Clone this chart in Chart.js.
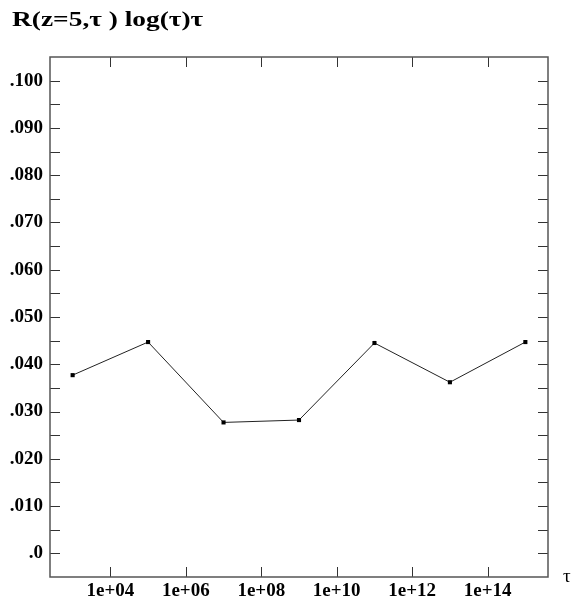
<!DOCTYPE html>
<html>
<head>
<meta charset="utf-8">
<script src="https://cdn.jsdelivr.net/npm/chart.js@4/dist/chart.umd.min.js"></script>
<style>
  html, body { margin: 0; padding: 0; background: #fff; }
  #wrap { width: 574px; height: 603px; position: relative; }
</style>
</head>
<body>
<div id="wrap"><canvas id="chart"></canvas></div>
<script>
// data
const tauValues = [1e3, 1e5, 1e7, 1e9, 1e11, 1e13, 1e15];
const rValues = [0.0377, 0.0447, 0.0277, 0.0282, 0.0445, 0.0362, 0.0447];

const xTickValues = [1e4, 1e6, 1e8, 1e10, 1e12, 1e14];
const xTickLabels = ['1e+04', '1e+06', '1e+08', '1e+10', '1e+12', '1e+14'];
const yTickValues = [0, 0.01, 0.02, 0.03, 0.04, 0.05, 0.06, 0.07, 0.08, 0.09, 0.10];
const yTickLabels = ['.0', '.010', '.020', '.030', '.040', '.050', '.060', '.070', '.080', '.090', '.100'];
const yMinorValues = [0.005, 0.015, 0.025, 0.035, 0.045, 0.055, 0.065, 0.075, 0.085, 0.095];

const titleText = 'R(z=5,\u03c4 ) log(\u03c4)\u03c4';
const axisText = '\u03c4';

const serif = "'Liberation Serif', 'DejaVu Serif', serif";

// frame, inward ticks on all four sides, title and axis symbol
const framePlugin = {
    id: 'frame',
    afterDraw(chart) {
        const ctx = chart.ctx;
        const a = chart.chartArea;
        const xs = chart.scales.x, ys = chart.scales.y;
        const len = 10;
        ctx.save();
        ctx.strokeStyle = '#333';
        ctx.lineWidth = 1;
        ctx.beginPath();
        xTickValues.forEach(v => {
            const px = Math.round(xs.getPixelForValue(v)) + 0.5;
            ctx.moveTo(px, a.bottom); ctx.lineTo(px, a.bottom - len);
            ctx.moveTo(px, a.top); ctx.lineTo(px, a.top + len);
        });
        yTickValues.concat(yMinorValues).forEach(v => {
            const py = Math.round(ys.getPixelForValue(v)) + 0.5;
            ctx.moveTo(a.left, py); ctx.lineTo(a.left + len, py);
            ctx.moveTo(a.right, py); ctx.lineTo(a.right - len, py);
        });
        ctx.stroke();

        ctx.strokeStyle = '#555';
        ctx.lineWidth = 1.5;
        ctx.strokeRect(a.left, a.top, a.right - a.left, a.bottom - a.top);

        ctx.fillStyle = '#000';
        ctx.textBaseline = 'alphabetic';
        ctx.textAlign = 'left';
        // the reference title is set wide, so stretch it sideways
        ctx.save();
        ctx.translate(12, 26);
        ctx.scale(1.37, 1);
        ctx.font = 'bold 20px ' + serif;
        ctx.fillText(titleText, 0, 0);
        ctx.restore();
        ctx.font = '19px ' + serif;
        ctx.fillText(axisText, 563, 582);
        ctx.restore();
    }
};

new Chart(document.getElementById('chart'), {
    type: 'line',
    data: {
        datasets: [{
            data: tauValues.map((t, i) => ({ x: t, y: rValues[i] })),
            borderColor: '#222',
            borderWidth: 1,
            pointStyle: 'rect',
            pointRadius: 2.9,
            pointBackgroundColor: '#000',
            pointBorderColor: '#000',
            pointBorderWidth: 0,
            tension: 0
        }]
    },
    options: {
        responsive: true,
        maintainAspectRatio: false,
        animation: false,
        layout: { padding: { top: 57, left: 0, right: 26, bottom: 0 } },
        plugins: {
            legend: { display: false },
            tooltip: { enabled: false }
        },
        scales: {
            x: {
                type: 'logarithmic',
                min: Math.pow(10, 2.4),
                max: Math.pow(10, 15.6),
                afterBuildTicks: s => { s.ticks = xTickValues.map(v => ({ value: v })); },
                afterFit: s => { s.height = 26; },
                grid: { display: false, drawTicks: false },
                border: { display: false },
                ticks: {
                    autoSkip: false,
                    maxRotation: 0,
                    padding: 3,
                    color: '#000',
                    font: { family: serif, size: 19, weight: 'bold' },
                    callback: (v, i) => xTickLabels[i]
                }
            },
            y: {
                type: 'linear',
                min: -0.005,
                max: 0.105,
                afterBuildTicks: s => { s.ticks = yTickValues.map(v => ({ value: v })); },
                afterFit: s => { s.width = 50; },
                grid: { display: false, drawTicks: false },
                border: { display: false },
                ticks: {
                    autoSkip: false,
                    padding: 7,
                    color: '#000',
                    font: { family: serif, size: 19, weight: 'bold' },
                    callback: (v, i) => yTickLabels[i]
                }
            }
        }
    },
    plugins: [framePlugin]
});
</script>
</body>
</html>
